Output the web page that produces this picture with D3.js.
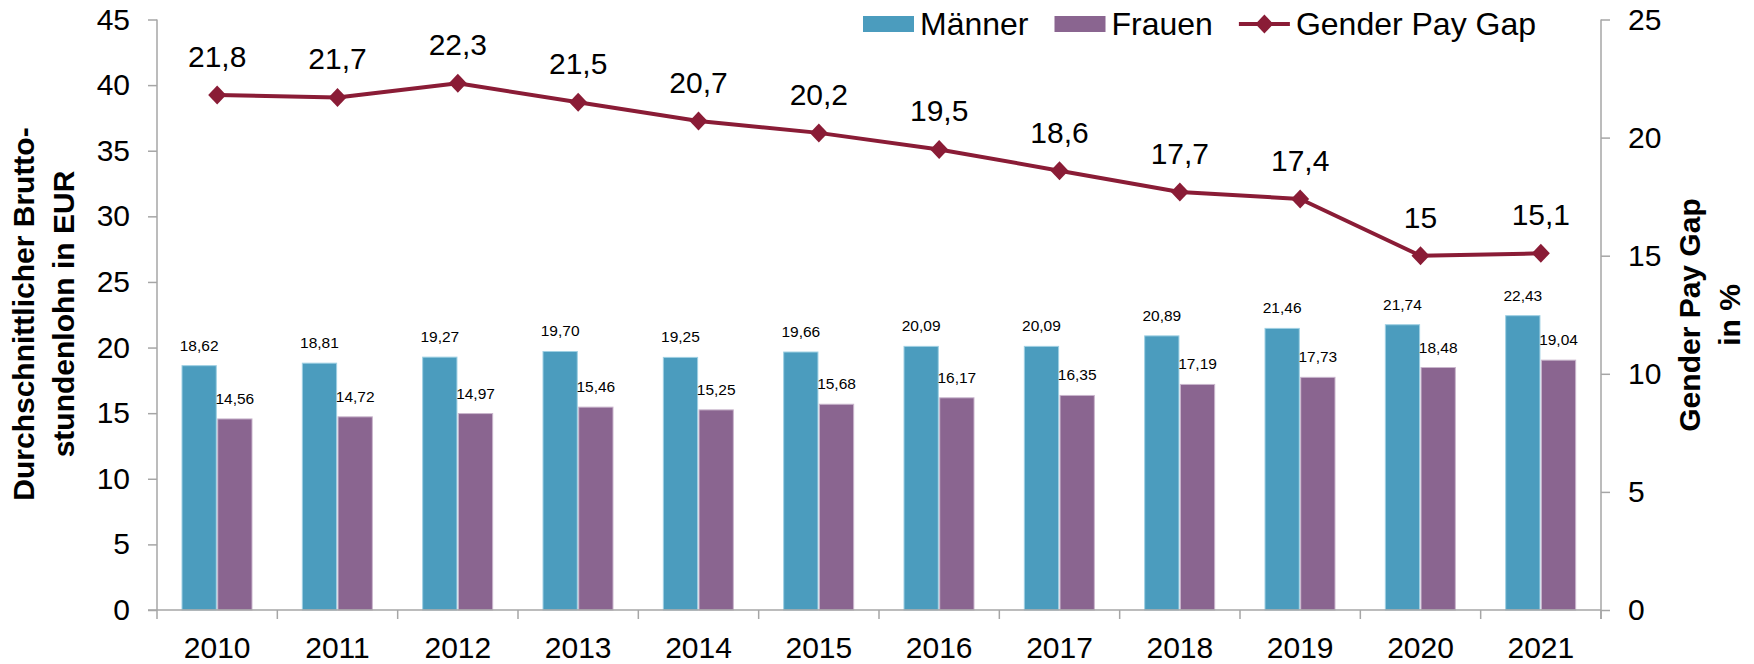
<!DOCTYPE html>
<html>
<head>
<meta charset="utf-8">
<script src="https://cdn.jsdelivr.net/npm/d3@7"></script>
<style>
  html, body { margin: 0; padding: 0; background: #ffffff; }
  svg { display: block; font-family: "Liberation Sans", Arial, sans-serif; }
</style>
</head>
<body>
<svg id="chart" width="1754" height="664"></svg>
<script>
// ---- data ----
const years = ["2010","2011","2012","2013","2014","2015","2016","2017","2018","2019","2020","2021"];
const maenner = [18.62, 18.81, 19.27, 19.70, 19.25, 19.66, 20.09, 20.09, 20.89, 21.46, 21.74, 22.43];
const frauen  = [14.56, 14.72, 14.97, 15.46, 15.25, 15.68, 16.17, 16.35, 17.19, 17.73, 18.48, 19.04];
const gap     = [21.8, 21.7, 22.3, 21.5, 20.7, 20.2, 19.5, 18.6, 17.7, 17.4, 15, 15.1];
const leftTicks  = [0, 5, 10, 15, 20, 25, 30, 35, 40, 45];
const rightTicks = [0, 5, 10, 15, 20, 25];
const seriesNames = ["Männer", "Frauen", "Gender Pay Gap"];
const leftTitle  = ["Durchschnittlicher Brutto-", "stundenlohn in EUR"];
const rightTitle = ["Gender Pay Gap", "in %"];

// ---- style ----
const colM = "#4b9cbe", colF = "#8a6590", colL = "#8a1c36", axisCol = "#a6a6a6";
const strokeM = "#9fd0e3", strokeF = "#c9b5cc";

const svg = d3.select("#chart");
const X0 = 157, X1 = 1601, Y0 = 610, Y1 = 19.5;

const x = d3.scaleBand().domain(years).range([X0, X1]);
const xs = d3.scaleBand().domain(["m", "f"]).range([25, 95]).paddingInner(0.04);
const yL = d3.scaleLinear().domain([0, 45]).range([Y0, Y1]);
const yR = d3.scaleLinear().domain([0, 25]).range([Y0, Y1]);

const fmt2 = v => d3.format(".2f")(v).replace(".", ",");
const fmtG = v => String(v).replace(".", ",");

// ---- bars ----
const rows = years.map((yr, i) => ({ yr, m: maenner[i], f: frauen[i], g: gap[i] }));
const barData = [];
rows.forEach(r => {
  barData.push({ yr: r.yr, key: "m", v: r.m });
  barData.push({ yr: r.yr, key: "f", v: r.f });
});

svg.append("g").selectAll("rect").data(barData).join("rect")
  .attr("x", d => x(d.yr) + xs(d.key))
  .attr("width", xs.bandwidth())
  .attr("y", d => yL(d.v))
  .attr("height", d => Y0 - yL(d.v))
  .attr("fill", d => d.key === "m" ? colM : colF)
  .attr("stroke", d => d.key === "m" ? strokeM : strokeF)
  .attr("stroke-width", 1);

svg.append("g").selectAll("text").data(barData).join("text")
  .attr("x", d => x(d.yr) + xs(d.key) + xs.bandwidth() / 2)
  .attr("y", d => yL(d.v) - 15)
  .attr("text-anchor", "middle")
  .attr("font-size", 15.5)
  .attr("fill", "#000")
  .text(d => fmt2(d.v));

// ---- axes ----
const axL = svg.append("g").attr("transform", `translate(${X0},0)`)
  .call(d3.axisLeft(yL).tickValues(leftTicks).tickSize(9).tickPadding(18).tickFormat(d3.format("d")));
const axR = svg.append("g").attr("transform", `translate(${X1},0)`)
  .call(d3.axisRight(yR).tickValues(rightTicks).tickSize(9).tickPadding(18).tickFormat(d3.format("d")));
[axL, axR].forEach(a => {
  a.select(".domain").attr("stroke", axisCol).attr("stroke-width", 1.5).attr("d",
    a === axL ? `M0,${Y1}V${Y0}` : `M0,${Y1}V${Y0 + 9}`);
  a.selectAll(".tick line").attr("stroke", axisCol).attr("stroke-width", 1.5);
  a.selectAll(".tick text").attr("font-size", 30).attr("fill", "#000")
    .attr("font-family", "Liberation Sans, Arial, sans-serif");
});

// x axis
const xAxisG = svg.append("g");
xAxisG.append("line").attr("x1", X0 - 9).attr("x2", X1).attr("y1", Y0).attr("y2", Y0)
  .attr("stroke", axisCol).attr("stroke-width", 1.5);
const boundaries = years.map(y => x(y)).concat([x(years[years.length - 1]) + x.bandwidth()]);
xAxisG.selectAll("line.xt").data(boundaries).join("line").attr("class", "xt")
  .attr("x1", d => d).attr("x2", d => d).attr("y1", Y0).attr("y2", Y0 + 9)
  .attr("stroke", axisCol).attr("stroke-width", 1.5);
xAxisG.selectAll("text").data(years).join("text")
  .attr("x", d => x(d) + x.bandwidth() / 2)
  .attr("y", 658)
  .attr("text-anchor", "middle")
  .attr("font-size", 30)
  .attr("fill", "#000")
  .text(d => d);

// ---- line ----
const lineGen = d3.line()
  .x(d => x(d.yr) + x.bandwidth() / 2)
  .y(d => yR(d.g));
svg.append("path").datum(rows)
  .attr("d", lineGen)
  .attr("fill", "none")
  .attr("stroke", colL)
  .attr("stroke-width", 4)
  .attr("stroke-linejoin", "round");

const diamond = (cx, cy, rx, ry) => `M${cx},${cy - ry}L${cx + rx},${cy}L${cx},${cy + ry}L${cx - rx},${cy}Z`;
svg.append("g").selectAll("path").data(rows).join("path")
  .attr("d", d => diamond(x(d.yr) + x.bandwidth() / 2, yR(d.g), 9, 9.5))
  .attr("fill", colL);

svg.append("g").selectAll("text").data(rows).join("text")
  .attr("x", d => x(d.yr) + x.bandwidth() / 2)
  .attr("y", d => yR(d.g) - 28)
  .attr("text-anchor", "middle")
  .attr("font-size", 30)
  .attr("fill", "#000")
  .text(d => fmtG(d.g));

// ---- axis titles ----
const lt = svg.append("text")
  .attr("transform", "translate(34,314) rotate(-90)")
  .attr("text-anchor", "middle")
  .attr("font-size", 30)
  .attr("font-weight", "bold")
  .attr("fill", "#000");
leftTitle.forEach((t, i) => lt.append("tspan").attr("x", 0).attr("y", i * 40).text(t));

const rt = svg.append("text")
  .attr("transform", "translate(1700,315) rotate(-90)")
  .attr("text-anchor", "middle")
  .attr("font-size", 30)
  .attr("font-weight", "bold")
  .attr("fill", "#000");
rightTitle.forEach((t, i) => rt.append("tspan").attr("x", 0).attr("y", i * 40).text(t));

// ---- legend ----
const leg = svg.append("g");
let lx = 863;
const legCy = 24;
seriesNames.forEach((name, i) => {
  if (i < 2) {
    leg.append("rect").attr("x", lx).attr("y", 16).attr("width", 51).attr("height", 16)
      .attr("fill", i === 0 ? colM : colF);
  } else {
    leg.append("line").attr("x1", lx).attr("x2", lx + 51).attr("y1", legCy).attr("y2", legCy)
      .attr("stroke", colL).attr("stroke-width", 4);
    leg.append("path").attr("d", diamond(lx + 25.5, legCy, 9, 9.5)).attr("fill", colL);
  }
  const t = leg.append("text").attr("x", lx + 57).attr("y", 35)
    .attr("font-size", 32).attr("fill", "#000").text(name);
  lx = lx + 57 + t.node().getComputedTextLength() + 26;
});
</script>
</body>
</html>
